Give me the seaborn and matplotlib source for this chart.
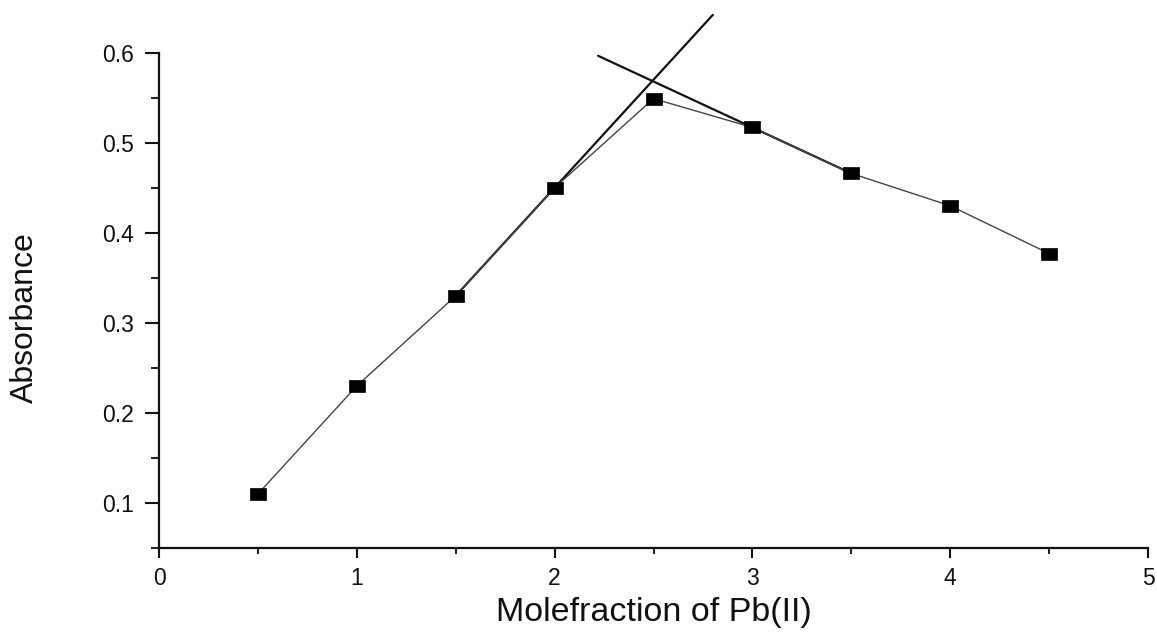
import numpy as np
import pandas as pd
import matplotlib
matplotlib.use("Agg")
import matplotlib.pyplot as plt
from matplotlib.ticker import MultipleLocator
import seaborn as sns

# Job's method data: absorbance vs mole fraction of Pb(II)
mole_fraction = [0.5, 1.0, 1.5, 2.0, 2.5, 3.0, 3.5, 4.0, 4.5]
absorbance = [0.11, 0.23, 0.33, 0.45, 0.549, 0.517, 0.466, 0.430, 0.377]

# Tangent lines: each fitted through two data points, drawn over a span
rise_fit_x = [1.5, 2.0]
rise_span = [1.5, 2.8]
fall_fit_x = [3.0, 3.5]
fall_span = [2.22, 3.5]

sns.set_theme(style="ticks")
plt.rcParams["font.family"] = ["Liberation Sans", "DejaVu Sans"]

fig = plt.figure(figsize=(11.57, 6.32), dpi=100)
ax = fig.add_axes([159 / 1157, 1 - 548 / 632, (1148 - 159) / 1157, (548 - 52.7) / 632])

df = pd.DataFrame({"x": mole_fraction, "y": absorbance})
rect = [(-1.35, -1), (1.35, -1), (1.35, 1), (-1.35, 1), (-1.35, -1)]
sns.lineplot(data=df, x="x", y="y", ax=ax, color="#444444", linewidth=1.0,
             marker=rect, markersize=12, markerfacecolor="black",
             markeredgecolor="black", markeredgewidth=0.5, zorder=3)


def tangent(fit_x, span):
    idx = [mole_fraction.index(v) for v in fit_x]
    x0, x1 = fit_x
    y0, y1 = absorbance[idx[0]], absorbance[idx[1]]
    slope = (y1 - y0) / (x1 - x0)
    xs = np.array(span)
    return xs, y0 + slope * (xs - x0)


for fit_x, span in [(rise_fit_x, rise_span), (fall_fit_x, fall_span)]:
    xs, ys = tangent(fit_x, span)
    ax.plot(xs, ys, color="#111111", linewidth=1.6, clip_on=False, zorder=2)

ax.set_xlim(0, 5)
ax.set_ylim(0.05, 0.6)
ax.xaxis.set_minor_locator(MultipleLocator(0.5))
ax.yaxis.set_minor_locator(MultipleLocator(0.05))
ax.set_xticks([0, 1, 2, 3, 4, 5])
ax.set_yticks([0.1, 0.2, 0.3, 0.4, 0.5, 0.6])
ax.set_yticklabels(["0.1", "0.2", "0.3", "0.4", "0.5", "0.6"])

sns.despine(ax=ax)
for side in ["left", "bottom"]:
    ax.spines[side].set_linewidth(1.6)
    ax.spines[side].set_color("#111111")

ax.tick_params(axis="x", which="major", direction="out", length=7, width=1.5,
               pad=7, labelsize=16.5, colors="#111111")
ax.tick_params(axis="x", which="minor", direction="out", length=4, width=1.5)
ax.tick_params(axis="y", which="major", direction="out", length=10, width=1.5,
               pad=8, labelsize=16.5, colors="#111111")
ax.tick_params(axis="y", which="minor", direction="out", length=5.5, width=1.5)

ax.set_xlabel("Molefraction of Pb(II)", fontsize=24.5, color="#111111", labelpad=5)
ax.set_ylabel("")
fig.text(25 / 1157, 1 - 318 / 632, "Absorbance", rotation=90, fontsize=23,
         color="#111111", ha="center", va="center")

fig.savefig("out.png", dpi=100, facecolor="white")
